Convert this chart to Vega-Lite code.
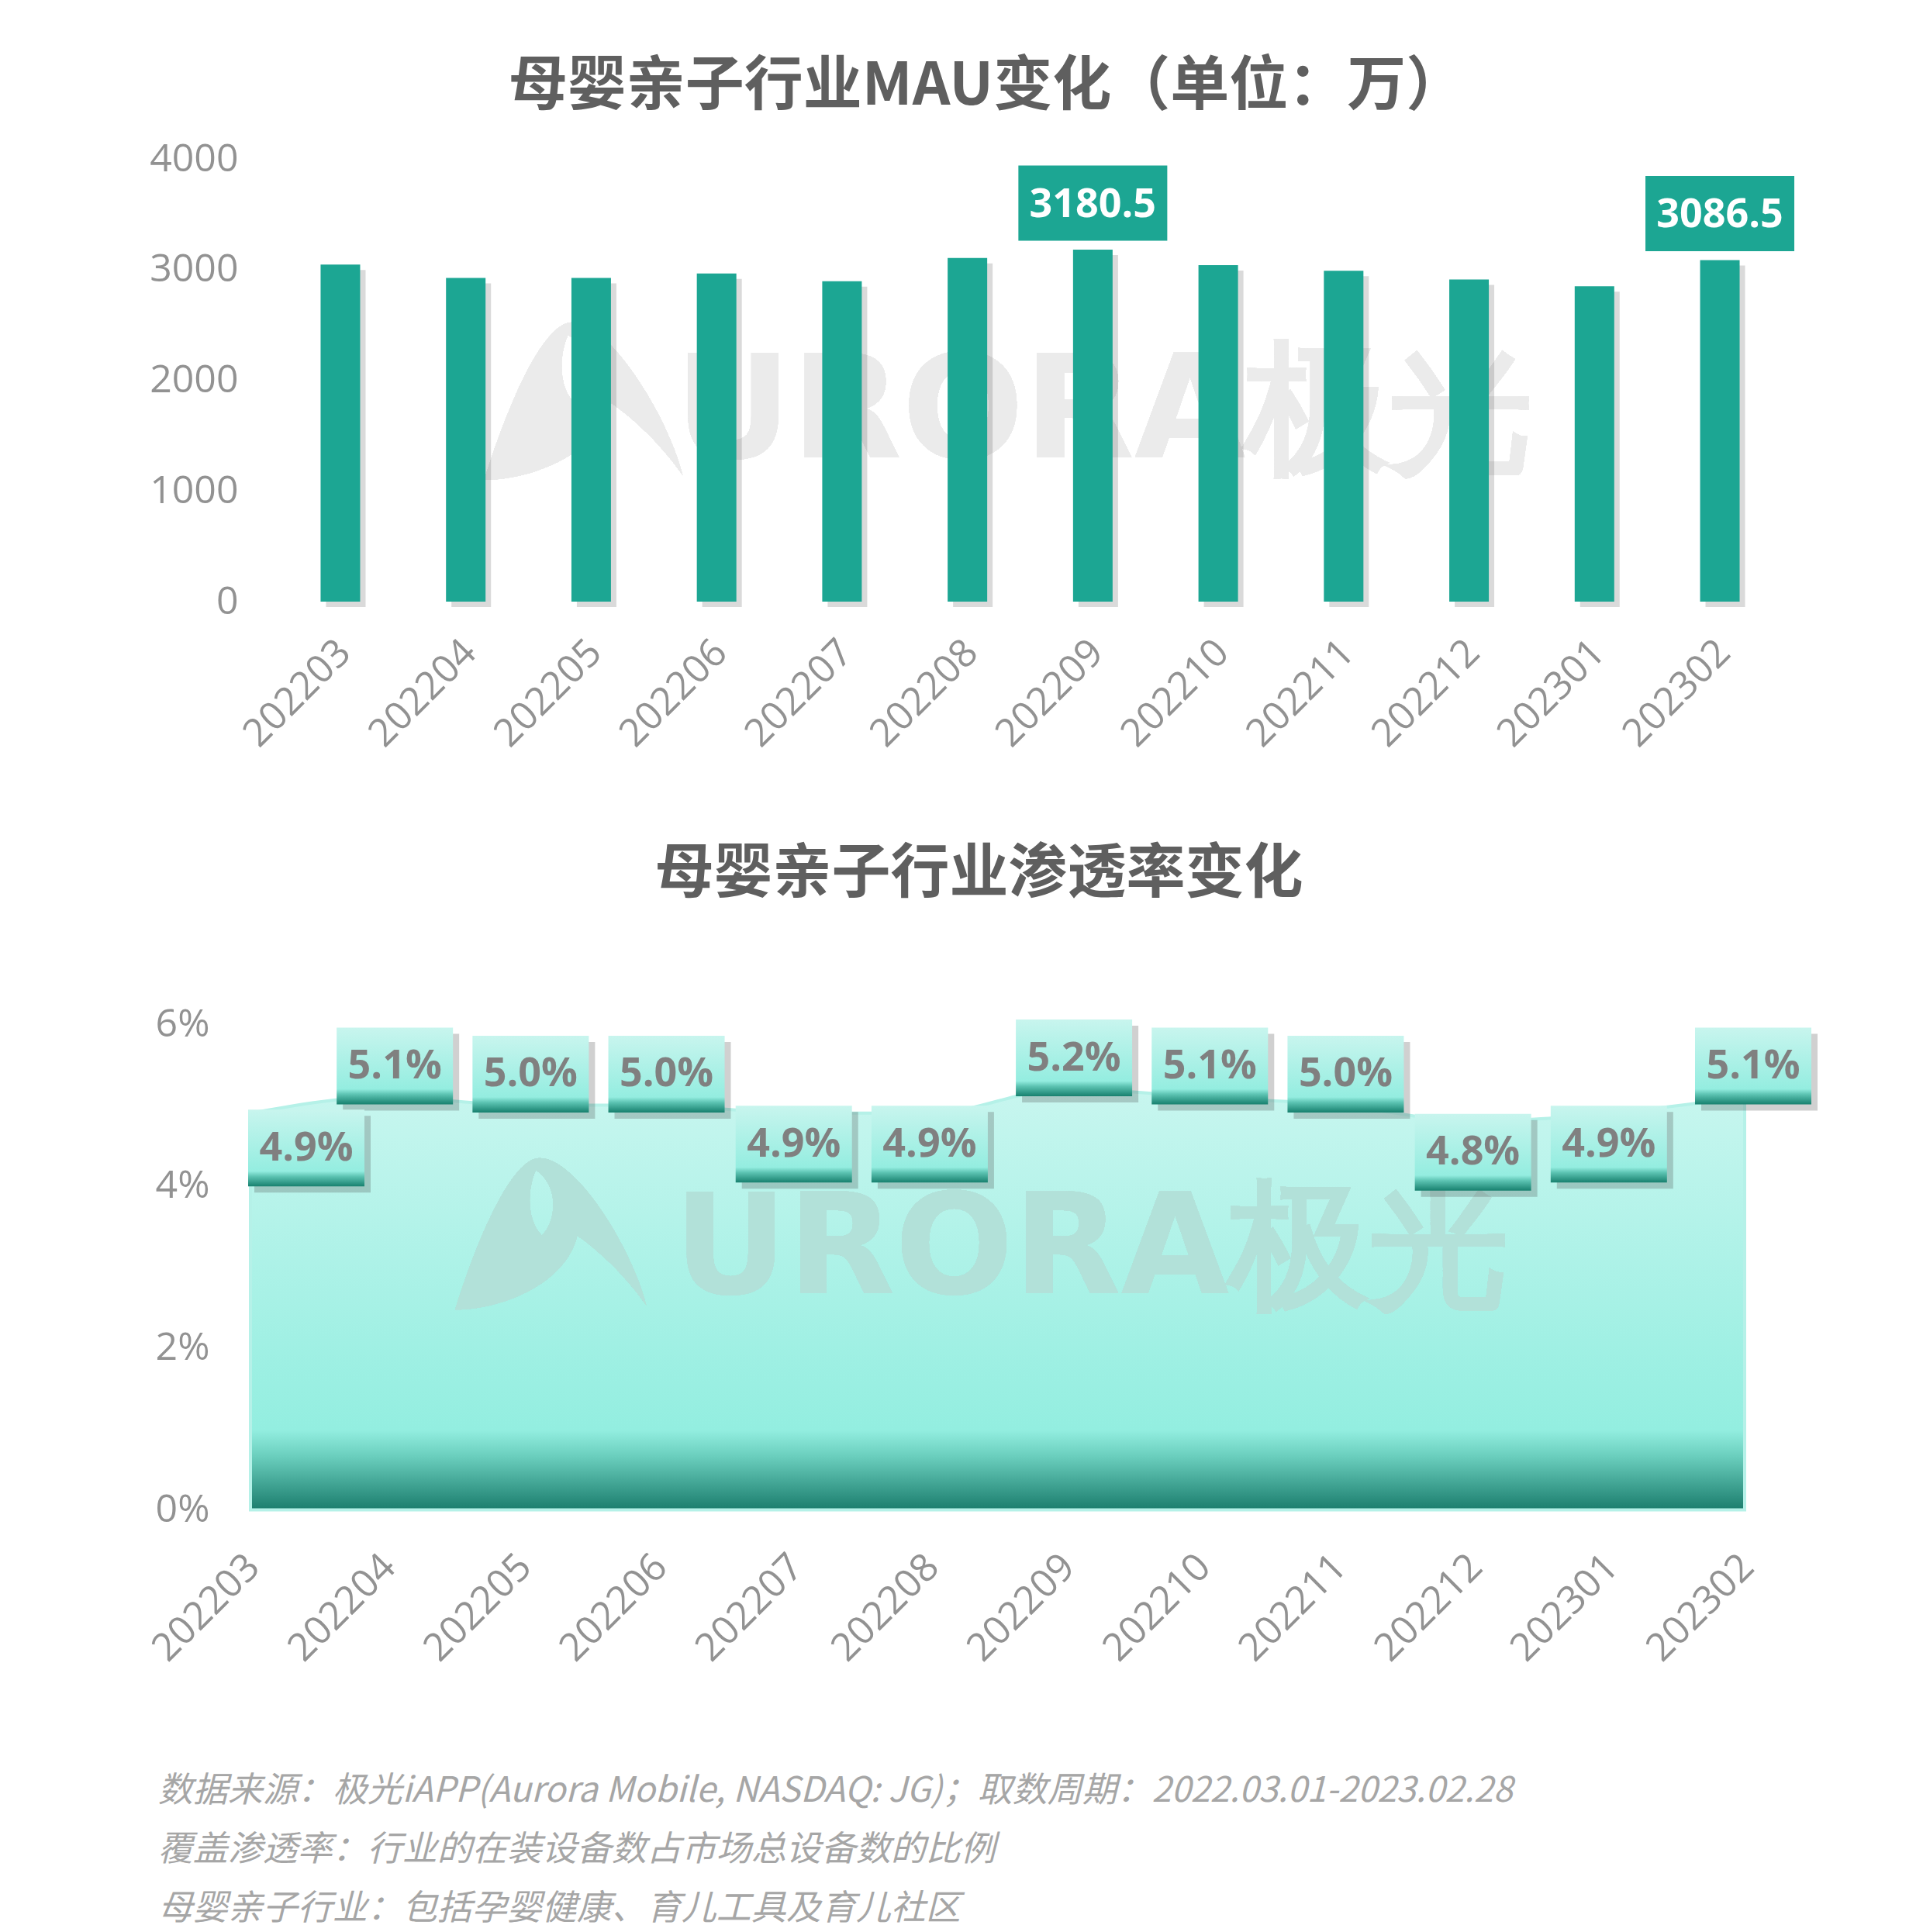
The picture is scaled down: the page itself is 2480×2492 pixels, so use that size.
{
  "$schema": "https://vega.github.io/schema/vega-lite/v6.json",
  "background": "white",
  "padding": {"left": 187, "top": 74, "right": 20, "bottom": 0},
  "datasets": {
    "d": [
      {"month": "202203", "mau": 3045, "rate": 0.049},
      {"month": "202204", "mau": 2925, "rate": 0.051},
      {"month": "202205", "mau": 2925, "rate": 0.050},
      {"month": "202206", "mau": 2965, "rate": 0.050},
      {"month": "202207", "mau": 2895, "rate": 0.049},
      {"month": "202208", "mau": 3105, "rate": 0.049},
      {"month": "202209", "mau": 3180.5, "rate": 0.052},
      {"month": "202210", "mau": 3040, "rate": 0.051},
      {"month": "202211", "mau": 2990, "rate": 0.050},
      {"month": "202212", "mau": 2910, "rate": 0.048},
      {"month": "202301", "mau": 2850, "rate": 0.049},
      {"month": "202302", "mau": 3086.5, "rate": 0.051}
    ]
  },
  "title": {
    "text": [
      "数据来源：极光iAPP(Aurora Mobile, NASDAQ: JG)；取数周期：2022.03.01-2023.02.28",
      "覆盖渗透率：行业的在装设备数占市场总设备数的比例",
      "母婴亲子行业：包括孕婴健康、育儿工具及育儿社区"
    ],
    "orient": "bottom",
    "anchor": "start",
    "frame": "bounds",
    "font": "Noto Sans CJK SC",
    "fontSize": 45,
    "fontStyle": "italic",
    "fontWeight": "normal",
    "color": "#a6a6a6",
    "lineHeight": 76,
    "offset": 136,
    "dx": 16
  },
  "config": {
    "view": {"stroke": null},
    "axis": {
      "domain": false,
      "ticks": false,
      "tickSize": 0,
      "grid": false,
      "title": null,
      "labelFont": "Open Sans",
      "labelFontSize": 50,
      "labelColor": "#929292"
    },
    "title": {
      "font": "Noto Sans CJK SC",
      "fontSize": 76,
      "fontWeight": "bold",
      "color": "#5f5f5f",
      "anchor": "middle"
    }
  },
  "spacing": 117,
  "vconcat": [
    {
      "width": 2011,
      "height": 571,
      "title": {"text": "母婴亲子行业MAU变化（单位：万）", "offset": 29, "dx": -56},
      "data": {"name": "d"},
      "encoding": {
        "x": {
          "field": "month",
          "type": "ordinal",
          "scale": {"paddingInner": 0, "paddingOuter": 0.217},
          "axis": {"labelAngle": -45, "labelPadding": 40, "labelOffset": -12}
        }
      },
      "layer": [
        {
          "mark": {"type": "point", "shape": "M-0.91,0.785C-0.7,0.1 -0.35,-0.72 -0.074,-0.72C0.3,-0.72 0.85,0.2 0.985,0.74C0.75,0.4 0.45,0.15 0.3,0.05C0.2,0.5 -0.4,0.78 -0.91,0.785ZM-0.11,-0.6C-0.2,-0.4 -0.2,-0.1 -0.05,0.05C0.1,-0.1 0.12,-0.45 -0.11,-0.6Z", "size": 72900, "filled": true, "opacity": 1, "color": "#ebebeb", "xOffset": -15},
          "encoding": {"x": {"datum": "202205"}, "y": {"datum": 1842, "type": "quantitative"}}
        },
        {
          "mark": {"type": "text", "text": "URORA极光", "font": "DejaVu Sans", "fontWeight": "bold", "fontSize": 185, "color": "#ebebeb", "align": "center", "baseline": "alphabetic", "xOffset": 14},
          "encoding": {"x": {"datum": "202209"}, "y": {"datum": 1303, "type": "quantitative"}}
        },
        {
          "mark": {"type": "bar", "size": 51, "color": "#555555", "opacity": 0.22, "xOffset": 7, "yOffset": 7},
          "encoding": {
            "y": {"field": "mau", "type": "quantitative", "scale": {"domain": [0, 4000], "nice": false}, "axis": {"values": [0, 1000, 2000, 3000, 4000], "format": "d", "labelPadding": 16}}
          }
        },
        {
          "mark": {"type": "bar", "size": 51, "color": "#1ca693"},
          "encoding": {"y": {"field": "mau", "type": "quantitative"}}
        },
        {
          "transform": [{"filter": {"field": "month", "oneOf": ["202209", "202302"]}}],
          "layer": [
            {
              "mark": {"type": "point", "shape": "M-1,-0.505H1V0.505H-1Z", "size": 36864, "filled": true, "opacity": 1, "color": "#1ca693", "yOffset": -60},
              "encoding": {"y": {"field": "mau", "type": "quantitative"}}
            },
            {
              "mark": {"type": "text", "font": "Open Sans", "fontWeight": "bold", "fontSize": 52, "color": "white", "align": "center", "baseline": "middle", "yOffset": -58},
              "encoding": {"y": {"field": "mau", "type": "quantitative"}, "text": {"field": "mau", "type": "quantitative", "format": ".1f"}}
            }
          ]
        }
      ]
    },
    {
      "width": 1927,
      "height": 626.5,
      "title": {"text": "母婴亲子行业渗透率变化", "offset": 129, "dx": -24},
      "data": {"name": "d"},
      "encoding": {
        "x": {
          "field": "month",
          "type": "ordinal",
          "scale": {"type": "point", "padding": 0},
          "axis": {"labelAngle": -45, "labelPadding": 48, "labelOffset": -14}
        }
      },
      "layer": [
        {
          "mark": {
            "type": "area",
            "interpolate": "monotone",
            "stroke": "#b5f1e8",
            "strokeWidth": 4,
            "fill": {
              "gradient": "linear", "x1": 0, "y1": 0, "x2": 0, "y2": 1,
              "stops": [
                {"offset": 0, "color": "#c8f6ef"},
                {"offset": 0.81, "color": "#93eee0"},
                {"offset": 0.87, "color": "#6cd0bf"},
                {"offset": 1, "color": "#1b7d6d"}
              ]
            }
          },
          "encoding": {
            "y": {"field": "rate", "type": "quantitative", "scale": {"domain": [0, 0.06], "nice": false}, "axis": {"values": [0, 0.02, 0.04, 0.06], "format": ".0%", "labelPadding": 53}}
          }
        },
        {
          "mark": {"type": "point", "shape": "M-0.91,0.785C-0.7,0.1 -0.35,-0.72 -0.074,-0.72C0.3,-0.72 0.85,0.2 0.985,0.74C0.75,0.4 0.45,0.15 0.3,0.05C0.2,0.5 -0.4,0.78 -0.91,0.785ZM-0.11,-0.6C-0.2,-0.4 -0.2,-0.1 -0.05,0.05C0.1,-0.1 0.12,-0.45 -0.11,-0.6Z", "size": 67600, "filled": true, "opacity": 1, "color": "#b2e1d9", "xOffset": 32},
          "encoding": {"x": {"datum": "202205"}, "y": {"datum": 0.0345, "type": "quantitative"}}
        },
        {
          "mark": {"type": "text", "text": "URORA极光", "font": "DejaVu Sans", "fontWeight": "bold", "fontSize": 180, "color": "#b2e1d9", "align": "center", "baseline": "alphabetic", "xOffset": 33},
          "encoding": {"x": {"datum": "202209"}, "y": {"datum": 0.0268, "type": "quantitative"}}
        },
        {
          "transform": [{"filter": {"field": "month", "oneOf": ["202204", "202205", "202206", "202209", "202210", "202211", "202302"]}}],
          "layer": [
            {
              "mark": {"type": "point", "shape": "M-1,-0.66H1V0.66H-1Z", "size": 22500, "filled": true, "opacity": 0.25, "color": "#444444", "xOffset": 19, "yOffset": -32},
              "encoding": {"y": {"field": "rate", "type": "quantitative"}}
            },
            {
              "mark": {"type": "point", "shape": "M-1,-0.66H1V0.66H-1Z", "size": 22500, "filled": true, "opacity": 1, "xOffset": 11, "yOffset": -40,
                "fill": {"gradient": "linear", "x1": 0, "y1": 0, "x2": 0, "y2": 1, "stops": [{"offset": 0, "color": "#c8f5ee"}, {"offset": 0.8, "color": "#94ede0"}, {"offset": 0.87, "color": "#5cc3b2"}, {"offset": 1, "color": "#17806e"}]}},
              "encoding": {"y": {"field": "rate", "type": "quantitative"}}
            },
            {
              "mark": {"type": "text", "font": "Open Sans", "fontWeight": "bold", "fontSize": 52, "color": "#808080", "align": "center", "baseline": "middle", "xOffset": 11, "yOffset": -40},
              "encoding": {"y": {"field": "rate", "type": "quantitative"}, "text": {"field": "rate", "type": "quantitative", "format": ".1%"}}
            }
          ]
        },
        {
          "transform": [{"filter": {"field": "month", "oneOf": ["202207", "202208", "202212", "202301"]}}],
          "layer": [
            {
              "mark": {"type": "point", "shape": "M-1,-0.66H1V0.66H-1Z", "size": 22500, "filled": true, "opacity": 0.25, "color": "#444444", "xOffset": 8, "yOffset": 48},
              "encoding": {"y": {"field": "rate", "type": "quantitative"}}
            },
            {
              "mark": {"type": "point", "shape": "M-1,-0.66H1V0.66H-1Z", "size": 22500, "filled": true, "opacity": 1, "xOffset": 0, "yOffset": 40,
                "fill": {"gradient": "linear", "x1": 0, "y1": 0, "x2": 0, "y2": 1, "stops": [{"offset": 0, "color": "#c8f5ee"}, {"offset": 0.8, "color": "#94ede0"}, {"offset": 0.87, "color": "#5cc3b2"}, {"offset": 1, "color": "#17806e"}]}},
              "encoding": {"y": {"field": "rate", "type": "quantitative"}}
            },
            {
              "mark": {"type": "text", "font": "Open Sans", "fontWeight": "bold", "fontSize": 52, "color": "#808080", "align": "center", "baseline": "middle", "xOffset": 0, "yOffset": 40},
              "encoding": {"y": {"field": "rate", "type": "quantitative"}, "text": {"field": "rate", "type": "quantitative", "format": ".1%"}}
            }
          ]
        },
        {
          "transform": [{"filter": {"field": "month", "oneOf": ["202203"]}}],
          "layer": [
            {
              "mark": {"type": "point", "shape": "M-1,-0.66H1V0.66H-1Z", "size": 22500, "filled": true, "opacity": 0.25, "color": "#444444", "xOffset": 80, "yOffset": 53},
              "encoding": {"y": {"field": "rate", "type": "quantitative"}}
            },
            {
              "mark": {"type": "point", "shape": "M-1,-0.66H1V0.66H-1Z", "size": 22500, "filled": true, "opacity": 1, "xOffset": 72, "yOffset": 45,
                "fill": {"gradient": "linear", "x1": 0, "y1": 0, "x2": 0, "y2": 1, "stops": [{"offset": 0, "color": "#c8f5ee"}, {"offset": 0.8, "color": "#94ede0"}, {"offset": 0.87, "color": "#5cc3b2"}, {"offset": 1, "color": "#17806e"}]}},
              "encoding": {"y": {"field": "rate", "type": "quantitative"}}
            },
            {
              "mark": {"type": "text", "font": "Open Sans", "fontWeight": "bold", "fontSize": 52, "color": "#808080", "align": "center", "baseline": "middle", "xOffset": 72, "yOffset": 45},
              "encoding": {"y": {"field": "rate", "type": "quantitative"}, "text": {"field": "rate", "type": "quantitative", "format": ".1%"}}
            }
          ]
        }
      ]
    }
  ]
}
